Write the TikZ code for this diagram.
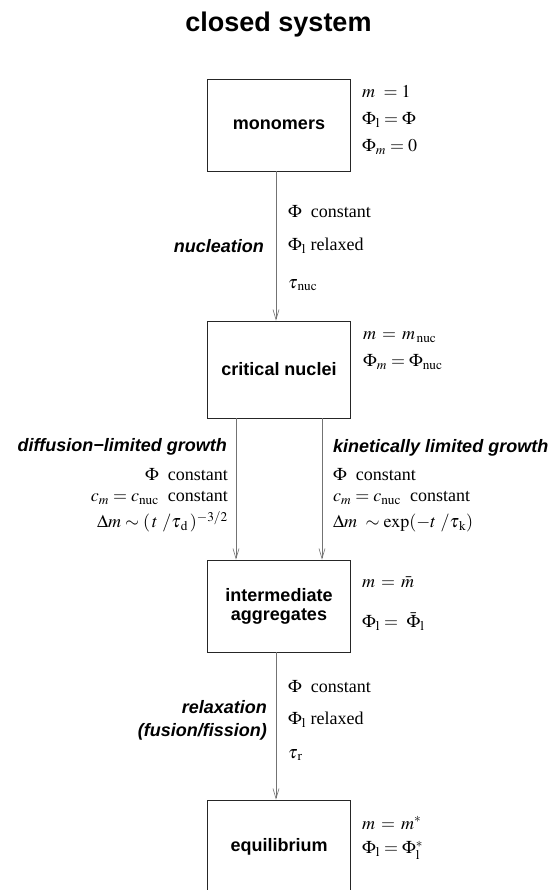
\documentclass[tikz,border=0pt]{standalone}
\usepackage{mathptmx}
\usepackage{fontspec}
\setmainfont{Liberation Serif}
\setsansfont{Liberation Sans}
\usetikzlibrary{arrows.meta,positioning}

\begin{document}
\begin{tikzpicture}[
  x=1pt, y=-1pt,
  font=\fontsize{18}{21}\selectfont,
  box/.style={draw=black!85, line width=0.8pt, minimum width=143pt,
              minimum height=92pt, align=center,
              font=\fontsize{18}{19}\selectfont\sffamily\bfseries},
  proc/.style={font=\fontsize{18}{23}\selectfont\sffamily\bfseries\itshape,
               align=right, inner sep=0pt},
  cond/.style={inner sep=0pt},
  arr/.style={-{Straight Barb[length=10pt,width=6pt]}, draw=black!55,
              line width=0.6pt}]

\clip (0,0) rectangle (554,890);

% Title
\node[font=\fontsize{27}{30}\selectfont\sffamily\bfseries, anchor=base]
  (title) at (278.5,32) {closed system};

% States
\node[box] (mono) at (279,125) {monomers};
\node[box, minimum height=97pt] (crit) at (279,369.5) {critical nuclei};
\node[box] (inter) at (279,606) {intermediate\\aggregates};
\node[box, minimum height=94pt] (equi) at (279,847) {equilibrium};

% State conditions
\node[cond, anchor=west] (m1) at (362,92) {$m\ = 1$};
\node[cond, anchor=west] (m2) at (362,120) {$\Phi_{\mathrm{l}} = \Phi$};
\node[cond, anchor=west] (m3) at (362,147) {$\Phi_m = 0$};
\node[cond, anchor=west] (c1) at (363,337) {$m\, =\, m_{\,\mathrm{nuc}}$};
\node[cond, anchor=west] (c2) at (363,362) {$\Phi_m = \Phi_{\mathrm{nuc}}$};
\node[cond, anchor=west] (i1) at (362,582) {$m\, =\, \bar{m}$};
\node[cond, anchor=west] (i2) at (362,622) {$\Phi_{\mathrm{l}} =\ \bar{\Phi}_{\mathrm{l}}$};
\node[cond, anchor=west] (e1) at (362,823) {$m\, =\, m^{*}$};
\node[cond, anchor=west] (e2) at (362,850) {$\Phi_{\mathrm{l}} = \Phi_{\mathrm{l}}^{*}$};

% Nucleation
\draw[arr] (mono.south -| 276,0) -- (crit.north -| 276,0);
\node[proc, anchor=east] (nuc) at (264,246) {nucleation};
\node[cond, anchor=west] (n1) at (288,212) {$\Phi$\ \ constant};
\node[cond, anchor=west] (n2) at (288,246) {$\Phi_{\mathrm{l}}$ relaxed};
\node[cond, anchor=west] (n3) at (288,285) {$\tau_{\,\mathrm{nuc}}$};

% Growth
\draw[arr] (crit.south -| 236,0) -- (inter.north -| 236,0);
\draw[arr] (crit.south -| 322,0) -- (inter.north -| 322,0);
\node[proc, anchor=east] (dif) at (227,447) {diffusion−limited growth};
\node[cond, anchor=east] (d1) at (228,475) {$\Phi$\ \ constant};
\node[cond, anchor=east] (d2) at (228,498) {$c_m = c_{\mathrm{nuc}}$\ \ constant};
\node[cond, anchor=east] (d3) at (228,522) {$\Delta m \sim (\,t\ /\tau_{\,\mathrm{d}}\,)^{-3/2}$};
\node[proc, anchor=west] (kin) at (333,448) {kinetically limited growth};
\node[cond, anchor=west] (k1) at (333,475) {$\Phi$\ \ constant};
\node[cond, anchor=west] (k2) at (333,498) {$c_m = c_{\mathrm{nuc}}$\ \ constant};
\node[cond, anchor=west] (k3) at (333,523) {$\Delta m\ \sim \exp(-t\ /\tau_{\,\mathrm{k}})$};

% Relaxation
\draw[arr] (inter.south -| 276,0) -- (equi.north -| 276,0);
\node[proc, anchor=east] (rel) at (267,720) {relaxation\\(fusion/fission)};
\node[cond, anchor=west] (r1) at (288,687) {$\Phi$\ \ constant};
\node[cond, anchor=west] (r2) at (288,720) {$\Phi_{\mathrm{l}}$ relaxed};
\node[cond, anchor=west] (r3) at (288,755) {$\tau_{\,\mathrm{r}}$};
\end{tikzpicture}
\end{document}
